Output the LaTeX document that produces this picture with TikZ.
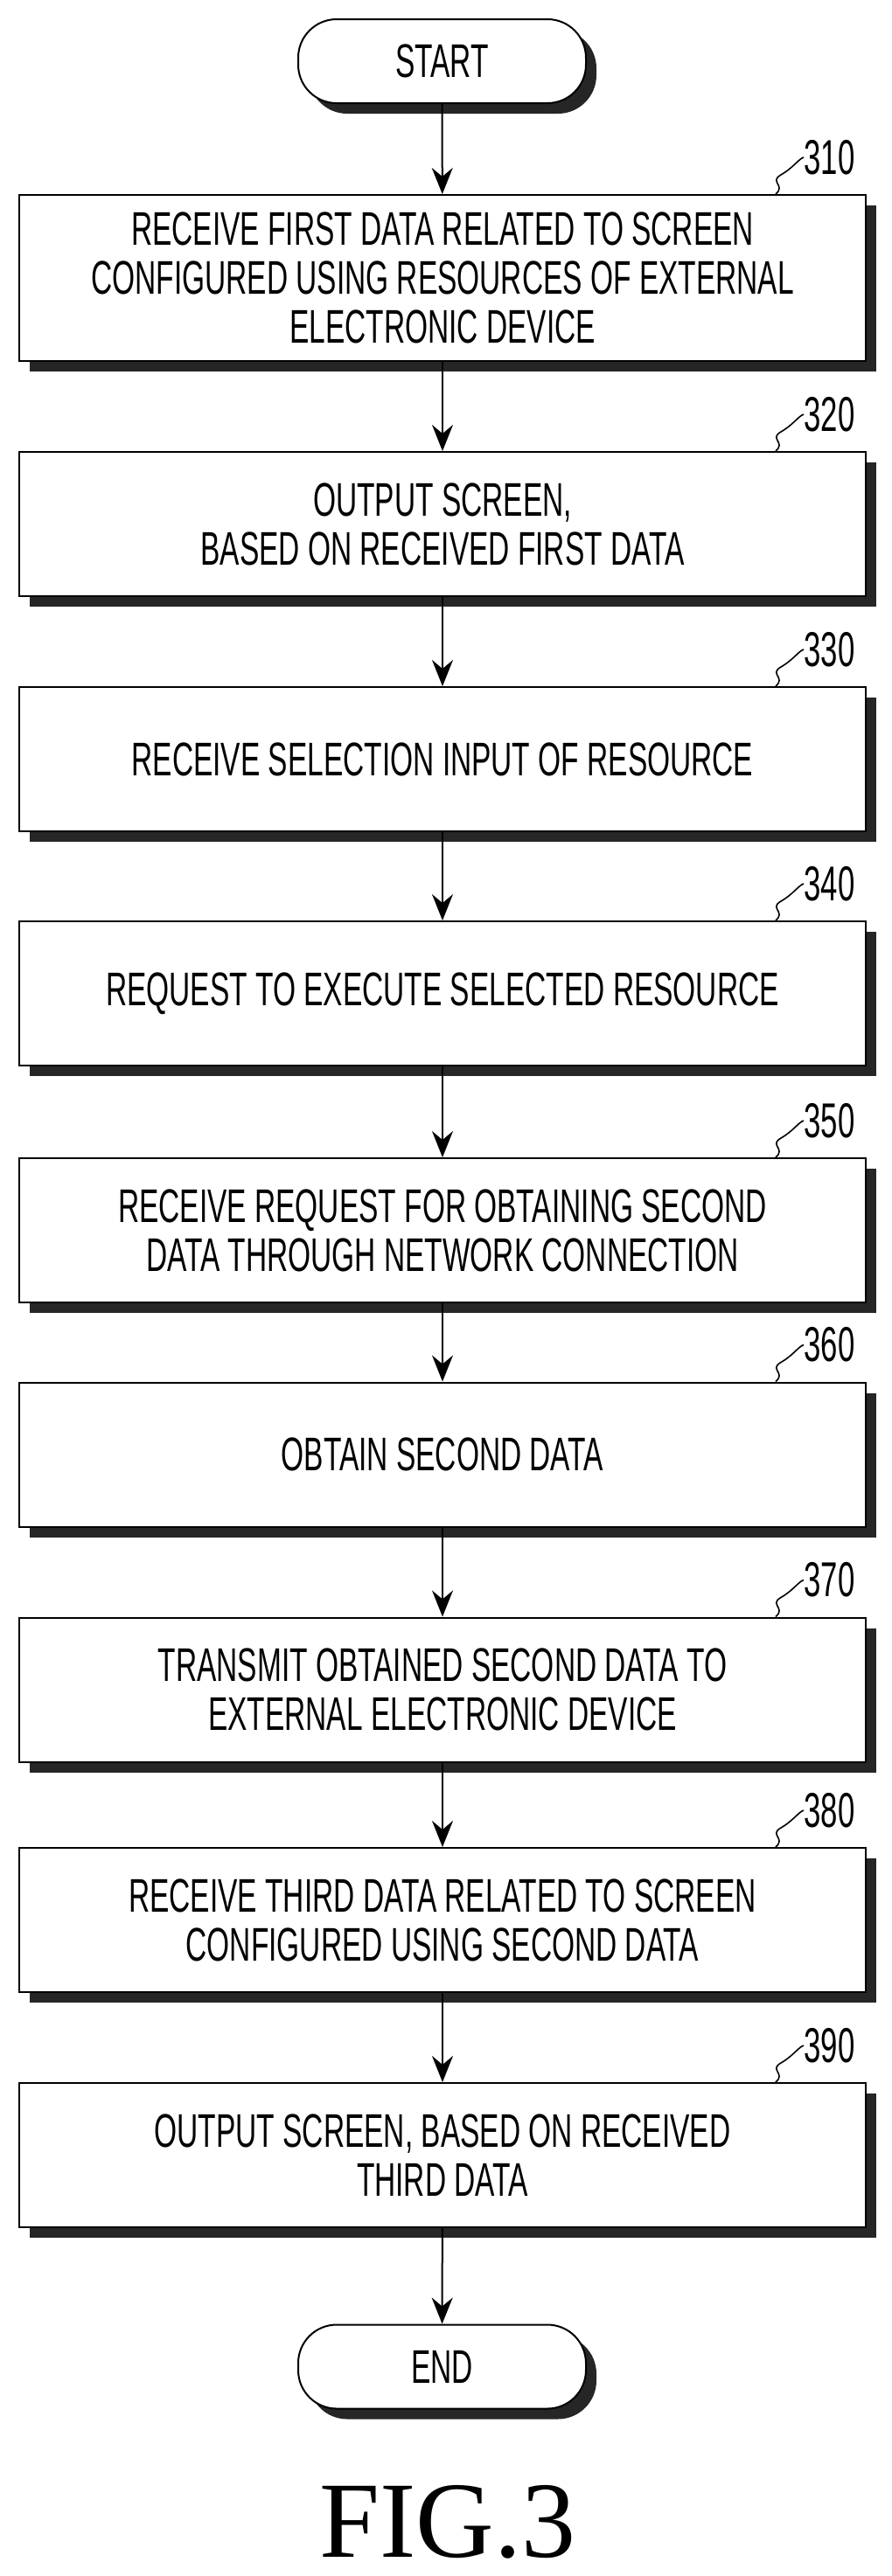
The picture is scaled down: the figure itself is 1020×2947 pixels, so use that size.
\documentclass[tikz,border=0pt]{standalone}
\usepackage{fontspec}
\setmainfont{Liberation Sans}[FakeStretch=0.62]
\newfontfamily\figfont{Liberation Serif}
\usetikzlibrary{shadows,arrows.meta,calc}
\begin{document}
\begin{tikzpicture}[x=0.5pt,y=-0.5pt,
  sh/.style={drop shadow={shadow xshift=6pt,shadow yshift=-6pt,fill=black!85,opacity=1}},
  box/.style={draw,line width=1pt,fill=white,sh,minimum width=484pt,inner sep=0pt,align=center,font=\fontsize{27}{28}\selectfont},
  term/.style={draw,line width=1pt,fill=white,sh,minimum width=164.5pt,minimum height=48pt,rounded corners=22pt,font=\fontsize{27}{28}\selectfont},
  lab/.style={font=\fontsize{28}{28}\selectfont,anchor=west,inner sep=0pt},
  arr/.style={line width=1pt,-{Stealth[length=15pt,width=12pt,inset=5pt]}},
  sq/.style={line width=0.8pt}]
\useasboundingbox (0,0) rectangle (1020,2947);
\node[term] (start) at (505.5,70) {START};
\node[box,minimum height=95pt] (b310) at (506,318) {RECEIVE FIRST DATA RELATED TO SCREEN\\CONFIGURED USING RESOURCES OF EXTERNAL\\ELECTRONIC DEVICE};
\node[box,minimum height=82.5pt] (b320) at (506,599.5) {OUTPUT SCREEN,\\BASED ON RECEIVED FIRST DATA};
\node[box,minimum height=82.5pt] (b330) at (506,868.5) {RECEIVE SELECTION INPUT OF RESOURCE};
\node[box,minimum height=82.5pt] (b340) at (506,1136.5) {REQUEST TO EXECUTE SELECTED RESOURCE};
\node[box,minimum height=82.5pt] (b350) at (506,1407.5) {RECEIVE REQUEST FOR OBTAINING SECOND\\DATA THROUGH NETWORK CONNECTION};
\node[box,minimum height=82.5pt] (b360) at (506,1664) {OBTAIN SECOND DATA};
\node[box,minimum height=82.5pt] (b370) at (506,1933) {TRANSMIT OBTAINED SECOND DATA TO\\EXTERNAL ELECTRONIC DEVICE};
\node[box,minimum height=82.5pt] (b380) at (506,2196.5) {RECEIVE THIRD DATA RELATED TO SCREEN\\CONFIGURED USING SECOND DATA};
\node[box,minimum height=82.5pt] (b390) at (506,2465.5) {OUTPUT SCREEN, BASED ON RECEIVED\\THIRD DATA};
\node[term] (end) at (505.5,2707.5) {END};
\node[font=\figfont\fontsize{62}{62}\selectfont,inner sep=0pt] (fig) at (512,2885) {FIG.3};
\draw[arr] (start) -- (b310);
\draw[arr] (b310) -- (b320);
\draw[arr] (b320) -- (b330);
\draw[arr] (b330) -- (b340);
\draw[arr] (b340) -- (b350);
\draw[arr] (b350) -- (b360);
\draw[arr] (b360) -- (b370);
\draw[arr] (b370) -- (b380);
\draw[arr] (b380) -- (b390);
\draw[arr] (b390) -- (end);
\foreach \n in {310,320,330,340,350,360,370,380,390}{
  \node[lab] (l\n) at ($(b\n.north east)+(-72,-42)$) {\n};
  \coordinate (s\n) at ($(b\n.north east)+(-104,0)$);
  \draw[sq] (s\n) .. controls ++(12,-10) and ++(-14,8) .. ($(s\n)+(6,-22)$) .. controls ++(14,-8) and ++(-6,2) .. (l\n.west);
}
\end{tikzpicture}
\end{document}
